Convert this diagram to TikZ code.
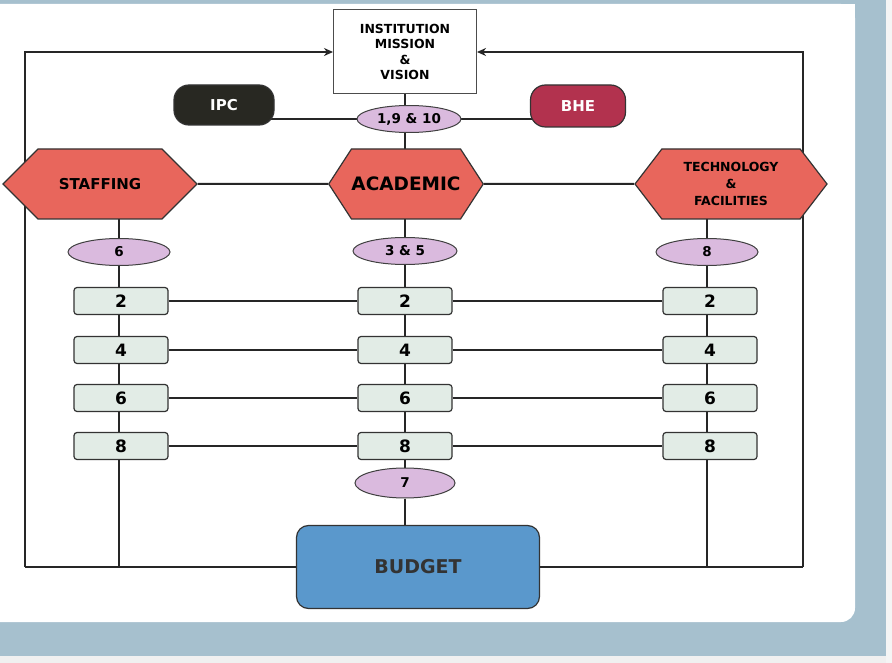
\documentclass[tikz,border=0pt]{standalone}
\usepackage{fontspec}
\setmainfont{DejaVu Sans}
\usetikzlibrary{shapes.geometric,shapes.symbols,backgrounds,arrows.meta}
\definecolor{bandblue}{RGB}{166,192,206}
\definecolor{hexred}{RGB}{232,102,92}
\definecolor{lilac}{RGB}{218,186,222}
\definecolor{mint}{RGB}{226,236,230}
\definecolor{ipcdark}{RGB}{40,40,34}
\definecolor{bhered}{RGB}{178,50,78}
\definecolor{budgetblue}{RGB}{90,152,204}
\begin{document}
\begin{tikzpicture}[x=1pt,y=-1pt,line width=2pt,font=\bfseries,
  hexbox/.style={signal,signal to=west and east,draw=black!80,fill=hexred,line width=1.2pt,
    minimum height=70,inner sep=0pt,align=center},
  numell/.style={ellipse,draw=black!75,fill=lilac,minimum width=102,minimum height=27,
    inner sep=0pt,line width=1pt,font=\bfseries\fontsize{13.5}{13.5}\selectfont},
  numbox/.style={rectangle,rounded corners=3pt,draw=black!80,fill=mint,minimum width=94,
    minimum height=27,inner sep=0pt,line width=1.2pt,font=\bfseries\fontsize{17}{17}\selectfont},
  pill/.style={rectangle,rounded corners=15pt,draw=black!80,line width=1.2pt,text=white,
    minimum width=100,minimum height=40,font=\bfseries\fontsize{15}{15}\selectfont},
  link/.style={draw=black!85,line width=2pt}]
% page and scanned frame
\useasboundingbox (0,0) rectangle (892,663);
\begin{scope}[on background layer]
\fill[bandblue] (0,0) rectangle (892,663);
\fill[white,rounded corners=14pt] (-30,4) rectangle (855,622);
\fill[white] (700,4) rectangle (855,100);
\fill[black!6] (0,656) rectangle (892,663);
\fill[black!4] (886,0) rectangle (892,663);
\end{scope}
% nodes
\node[draw=black!70,fill=white,line width=1pt,minimum width=143,minimum height=84,align=center,
  font=\bfseries\fontsize{12.5}{15.5}\selectfont] (inst) at (405,52) {INSTITUTION\\MISSION\\\&\\VISION};
\node[pill,fill=ipcdark] (ipc) at (224,105) {IPC};
\node[pill,fill=bhered,minimum width=95,minimum height=42] (bhe) at (578,106) {BHE};
\node[numell,minimum width=104] (e1) at (409,119) {1,9 \& 10};
\node[hexbox,minimum width=194,signal pointer angle=90,font=\bfseries\fontsize{15}{15}\selectfont] (staff) at (100,184) {STAFFING};
\node[hexbox,minimum width=150,signal pointer angle=114,font=\bfseries\fontsize{18.5}{18.5}\selectfont] (acad) at (406,184) {ACADEMIC};
\node[hexbox,minimum width=192,signal pointer angle=105,font=\bfseries\fontsize{12.5}{17}\selectfont] (tech) at (731,184) {TECHNOLOGY\\\&\\FACILITIES};
\node[numell] (e6) at (119,252) {6};
\node[numell,minimum width=104] (e35) at (405,251) {3 \& 5};
\node[numell] (e8) at (707,252) {8};
\foreach \n/\y in {2/301,4/350,6/398,8/446}{
  \node[numbox] (s\n) at (121,\y) {\n};
  \node[numbox] (a\n) at (405,\y) {\n};
  \node[numbox] (t\n) at (710,\y) {\n};
}
\node[numell,minimum width=100,minimum height=30] (e7) at (405,483) {7};
\node[rectangle,rounded corners=12pt,draw=black!80,fill=budgetblue,line width=1.2pt,minimum width=243,
  minimum height=83,font=\bfseries\fontsize{19}{19}\selectfont,text=black!80] (budget) at (418,567) {BUDGET};
\coordinate (tl) at (25,52); \coordinate (tr) at (803,52);
\coordinate (bl) at (25,567); \coordinate (br) at (803,567);
% connectors
\begin{scope}[on background layer]
\draw[link,-{Stealth[length=9pt,width=8pt]}] (bl) -- (tl) -- (inst.west);
\draw[link,-{Stealth[length=9pt,width=8pt]}] (br) -- (tr) -- (inst.east);
\draw[link] (bl) -- (budget.west); \draw[link] (budget.east) -- (br);
\draw[link] (inst) -- (inst |- acad) -- (e35) -- (a2) -- (a4) -- (a6) -- (a8) -- (e7) -- (e7 |- budget.north);
\draw[link] (ipc |- e1) -- (bhe |- e1);
\draw[link] (staff) -- (acad) -- (tech);
\draw[link] (e6 |- staff) -- (e6) -- (e6 |- s2) -- (e6 |- s8) -- (e6 |- bl);
\draw[link] (e8 |- tech) -- (e8) -- (e8 |- t2) -- (e8 |- t8) -- (e8 |- br);
\foreach \n in {2,4,6,8}{\draw[link] (s\n) -- (a\n) -- (t\n);}
\end{scope}
\end{tikzpicture}
\end{document}
